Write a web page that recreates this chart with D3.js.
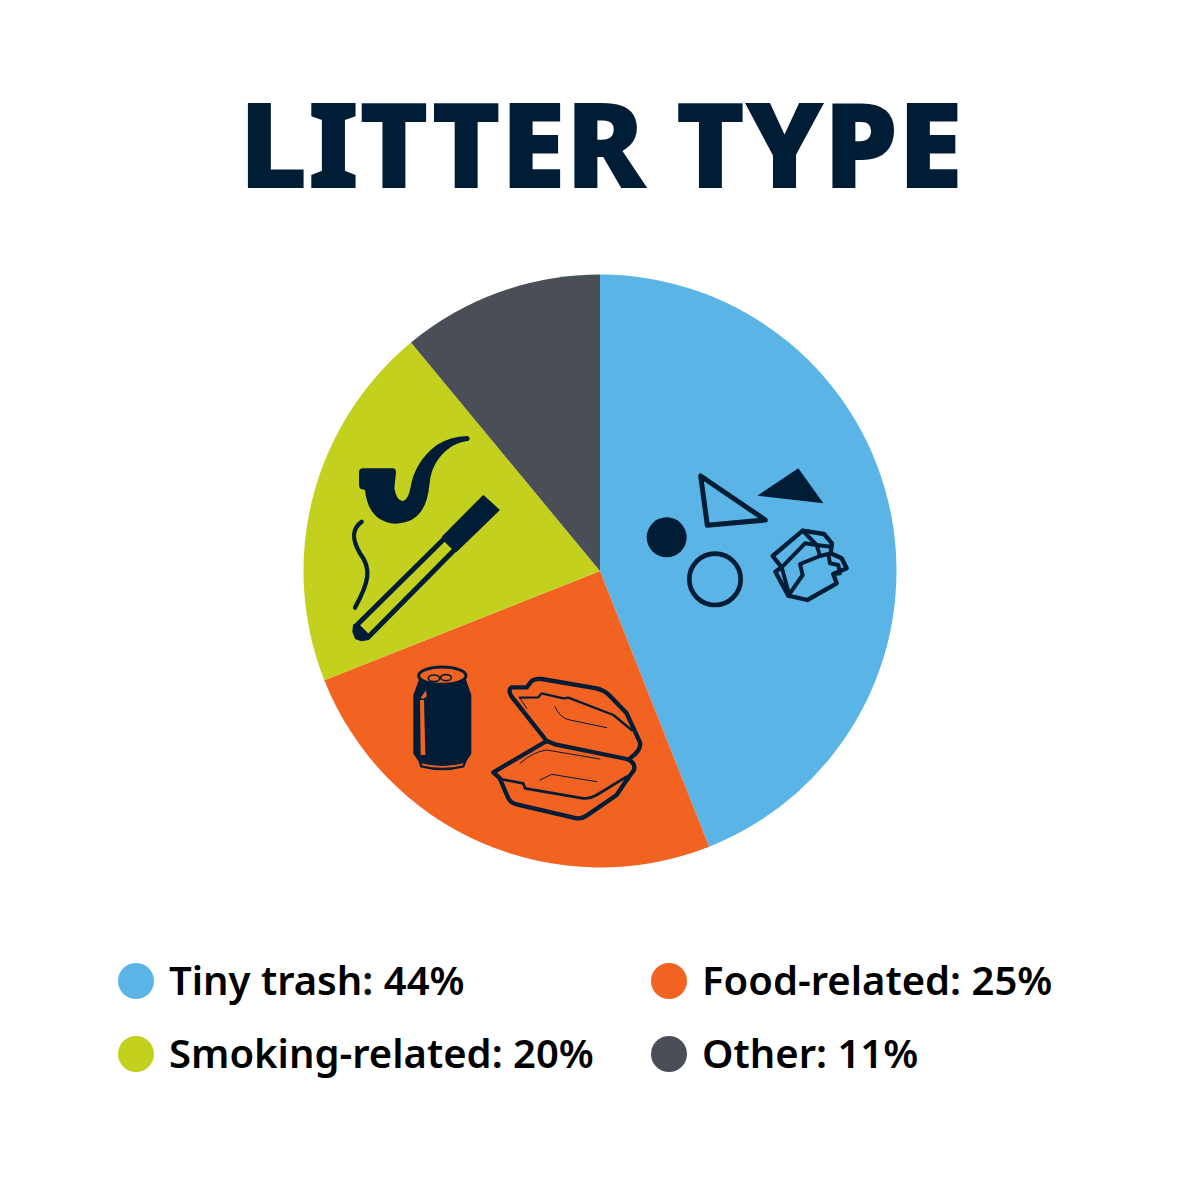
<!DOCTYPE html>
<html><head><meta charset="utf-8">
<script src="https://cdn.jsdelivr.net/npm/d3@7"></script>
<style>html,body{margin:0;background:#fff}svg{display:block}</style></head>
<body><div id="c"></div>
<script>
const categories = ["Tiny trash","Food-related","Smoking-related","Other"];
const values = [44,25,20,11];
const title = "LITTER TYPE";
const colors = ["#5ab4e6","#f26322","#c3d01e","#4a4e57"];
const ink = "#011d36";

const svg = d3.select("#c").append("svg").attr("width",1200).attr("height",1200);
svg.append("text").attr("x",600.5).attr("y",188).attr("text-anchor","middle")
  .attr("font-family","'Noto Sans'").attr("font-weight",900).attr("font-size",119)
  .attr("letter-spacing",-0.7).attr("fill",ink).text(title);

const pie = d3.pie().sort(null).value(d=>d)(values);
const arc = d3.arc().innerRadius(0).outerRadius(296.5);
svg.append("g").attr("transform","translate(600,571)").selectAll("path").data(pie).join("path")
  .attr("d",arc).attr("fill",(d,i)=>colors[i]);

const lx = d3.scalePoint().domain([0,1]).range([136,669]);
const ly = d3.scalePoint().domain([0,1]).range([981,1054]);
const lg = svg.append("g").selectAll("g").data(categories).join("g")
  .attr("transform",(d,i)=>`translate(${lx(i%2)},${ly(i>>1)})`);
lg.append("circle").attr("r",18).attr("fill",(d,i)=>colors[i]);
lg.append("text").attr("x",33).attr("y",13.5).attr("font-family","'Noto Sans'").attr("font-weight",600)
  .attr("font-size",40).attr("fill","#000").text((d,i)=>`${d}: ${values[i]}%`);

function icon(tx,ty,items){
  const g = svg.append("g").attr("transform",`translate(${tx},${ty}) scale(${1/3})`)
    .attr("stroke-linejoin","round").attr("stroke-linecap","round");
  items.forEach(([d,fill,sw])=>{
    g.append("path").attr("d",d).attr("fill",fill||"none")
     .attr("stroke",sw?(fill&&fill!==ink?"none":ink):"none").attr("stroke-width",sw||0);
  });
}
icon(620,450,[
 ["M242,78 L262,226 L436,210 Z",null,15],
 ["M535,55 L610,160 L412,137 Z",ink,0],
 ["M80,262 A60,60 0 1 0 200,262 A60,60 0 1 0 80,262 Z",ink,0],
 ["M208,388 A77,77 0 1 0 362,388 A77,77 0 1 0 208,388 Z",null,14],
 ["M458,318 L548,242 L612,252 L636,280 L632,310 L665,325 L680,355 L640,372 L650,400 L562,450 L505,437 L466,365 L485,352 Z",null,13],
 ["M548,242 L590,285 L632,290 M485,352 L555,280 L590,285 L600,318 L540,342 L548,375 L505,437 M600,318 L625,312 L630,340 L655,345 L660,370 L640,372 M485,352 L507,432",null,12]
]);
icon(340,425,[
 ["M70,130 L158,130 Q168,130 168,142 L163,190 Q170,228 188,228 Q205,225 212,185 Q225,110 290,60 Q330,35 382,33 Q394,38 386,47 Q335,52 298,98 Q272,130 268,180 Q258,295 165,296 Q85,290 75,195 L64,192 Q57,190 57,178 L57,142 Q57,130 70,130 Z",ink,0],
 ["M65,290 C30,315 40,350 60,385 C95,430 88,470 45,548",null,13],
 ["M430,212 L477,255 L350,378 L308,335 Z",ink,4],
 ["M314,340 L346,372 L85,636 L50,601 Z",null,15],
 ["M42,600 L85,642 L65,646 L48,640 L40,620 Z",ink,6]
]);
icon(400,655,[
 ["M60,72 L42,120 L42,295 L60,322 Q127,340 195,322 L212,295 L212,120 L195,72 Q127,105 60,72 Z",ink,4],
 ["M60,135 L72,135 L76,300 L62,300 Z","#f26322",0],
 ["M62,128 L78,106 L80,124 L70,132 Z","#f26322",0],
 ["M60,322 L64,334 Q127,350 190,334 L195,322",null,7],
 ["M56,62 A71,26 0 1 0 198,62 A71,26 0 1 0 56,62 Z",null,9],
 ["M85,70 A17,10 0 1 0 119,70 A17,10 0 1 0 85,70 Z M122,68 A16,9 0 1 0 154,68 A16,9 0 1 0 122,68 Z",null,5],
 ["M280,352 L440,258 L465,268 L680,312 Q708,322 702,345 L680,375 M280,352 L300,370",null,13],
 ["M300,372 L325,430 Q335,446 350,448 L530,490 Q545,492 560,482 L650,420 L682,372",null,13],
 ["M300,372 L370,385 L375,400 L550,430 Q570,432 590,420 L680,365",null,8],
 ["M440,258 L335,125 Q322,105 335,97 L380,97 L395,78 Q405,70 425,72 L590,100 Q610,105 625,118 L680,175 L720,262 Q725,285 692,308",null,13],
 ["M360,128 L415,127 L425,115 L490,130 L505,128 L640,180 L695,225",null,7],
 ["M360,130 L380,160 M465,155 Q480,190 510,195 L620,218 M498,272 L650,305 M360,325 Q400,290 440,285 L600,312 M420,375 L455,358 L590,380",null,3]
]);
</script></body></html>
